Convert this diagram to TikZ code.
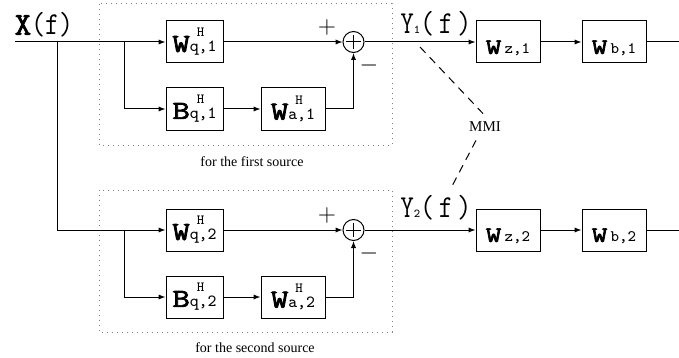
\documentclass[tikz,border=0pt]{standalone}
\usepackage{fontspec}
\usepackage{graphicx}
\usetikzlibrary{arrows.meta}
\newfontfamily\tms{Liberation Serif}
\newfontfamily\heavy{Latin Modern Mono}[FakeBold=2.5]
\newcommand{\fsz}[1]{\fontsize{#1}{#1}\selectfont}
% filter block with Hermitian superscript
\newcommand{\hflt}[2]{{\heavy\fsz{13}\scalebox{1.3}[1]{#1}}\rlap{\raisebox{7.5pt}{\ttfamily\fsz{7}\hspace{3.5pt}H}}{\ttfamily\fsz{8.5}#2}}
% plain filter block
\newcommand{\pflt}[2]{\rule{0pt}{13pt}{\heavy\fsz{11}\scalebox{1.35}[1]{#1}}\,{\ttfamily\fsz{8}#2}}
% output signal label
\newcommand{\ysig}[1]{{\ttfamily\fsz{16}\scalebox{0.8}[1]{Y}{\fsz{6}#1}\scalebox{0.85}[1]{(\,f\,)}}}
\begin{document}
\begin{tikzpicture}[x=0.5pt,y=-0.5pt,line width=0.5pt,
    >={Latex[length=3.5pt,width=2.6pt]},
    blk/.style={draw,minimum height=21pt,inner sep=0pt},
    sml/.style={blk,minimum width=28.5pt},
    wid/.style={blk,minimum width=32pt},
    sum/.style={draw,circle,minimum size=10.5pt,inner sep=0pt,
      path picture={\draw ([xshift=-3.6pt]path picture bounding box.center) -- ([xshift=3.6pt]path picture bounding box.center)
        ([yshift=-3.6pt]path picture bounding box.center) -- ([yshift=3.6pt]path picture bounding box.center);}},
    grp/.style={draw=gray,dotted},
    note/.style={font=\tms\fsz{7}},
    mlink/.style={dash pattern=on 4pt off 3pt}]
  \useasboundingbox (0,0) rectangle (679,358);
  % groups
  \draw[grp] (99,4) rectangle (392,145);
  \draw[grp] (99,190) rectangle (392,332);
  % input
  \node (xf) at (44,25) {\fsz{16}{\heavy X}\ttfamily\scalebox{0.85}[1]{(f)}};
  \coordinate (in) at (15,42);
  \coordinate (sp) at (57,42);
  \coordinate (br1) at (124,42);
  \coordinate (br2) at (124,230);
  % first source
  \node[sml] (wq1) at (194.5,42) {\hflt{W}{q,1}};
  \node[sml] (bq1) at (194.5,109) {\hflt{B}{q,1}};
  \node[wid] (wa1) at (293,109) {\hflt{W}{a,1}};
  \node[sum] (s1) at (353.5,42) {};
  \node (p1) at (327,28) {\fsz{13}$+$};
  \node (n1) at (369,66) {\fsz{13}$-$};
  \node (y1) at (436,24) {\ysig{1}};
  \node[wid] (wz1) at (508,42) {\pflt{W}{z,1}};
  \node[wid] (wb1) at (614,42) {\pflt{W}{b,1}};
  \coordinate (out1) at (679,42);
  % second source
  \node[sml] (wq2) at (194.5,230) {\hflt{W}{q,2}};
  \node[sml] (bq2) at (194.5,297) {\hflt{B}{q,2}};
  \node[wid] (wa2) at (293,297) {\hflt{W}{a,2}};
  \node[sum] (s2) at (353.5,230) {};
  \node (p2) at (327,215) {\fsz{13}$+$};
  \node (n2) at (369,253) {\fsz{13}$-$};
  \node (y2) at (436,208) {\ysig{2}};
  \node[wid] (wz2) at (508,230) {\pflt{W}{z,2}};
  \node[wid] (wb2) at (614,230) {\pflt{W}{b,2}};
  \coordinate (out2) at (679,230);
  % captions
  \node[note] (c1) at (252,162) {for the first source};
  \node[note] (c2) at (255,348) {for the second source};
  \node[note,font=\tms\fsz{7.5},inner sep=4pt] (mmi) at (485,127) {MMI};
  \coordinate (m1) at (420,47);
  \coordinate (m2) at (450,190);
  % wiring
  \draw[->] (in) -- (wq1);
  \draw[->] (br1) |- (bq1);
  \draw (sp) -- (57,230);
  \draw[->] (57,230) -- (wq2);
  \draw[->] (br2) |- (bq2);
  \draw[->] (wq1) -- (s1);
  \draw[->] (bq1) -- (wa1);
  \draw[->] (wa1) -| (s1);
  \draw[->] (s1) -- (wz1);
  \draw[->] (wz1) -- (wb1);
  \draw (wb1) -- (out1);
  \draw[->] (wq2) -- (s2);
  \draw[->] (bq2) -- (wa2);
  \draw[->] (wa2) -| (s2);
  \draw[->] (s2) -- (wz2);
  \draw[->] (wz2) -- (wb2);
  \draw (wb2) -- (out2);
  \draw[mlink] (m1) -- ([xshift=-1pt]mmi.north);
  \draw[mlink] ([xshift=-4.5pt]mmi.south) -- (m2);
\end{tikzpicture}
\end{document}
